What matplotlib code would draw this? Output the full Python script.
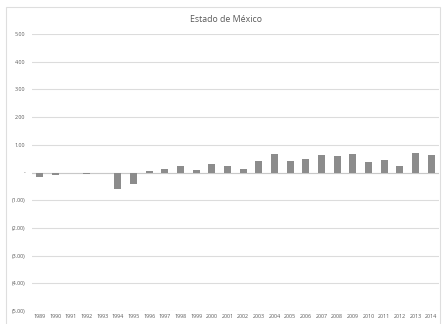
import matplotlib
matplotlib.use("Agg")
import matplotlib.pyplot as plt
from matplotlib.patches import Rectangle
from matplotlib.ticker import FuncFormatter

years = [str(y) for y in range(1989, 2015)]
values = [-0.18, -0.10, -0.02, -0.05, -0.02, -0.58, -0.40, 0.06, 0.14, 0.24,
          0.10, 0.30, 0.22, 0.14, 0.40, 0.67, 0.42, 0.47, 0.64, 0.61,
          0.67, 0.37, 0.45, 0.24, 0.72, 0.63]
y_ticks = [-5, -4, -3, -2, -1, 0, 1, 2, 3, 4, 5]
title = "Estado de México"

plt.rcParams['font.family'] = ['Open Sans', 'DejaVu Sans']

W, H = 445, 324
fig = plt.figure(figsize=(W / 100, H / 100), dpi=100)

# chart frame
fig.patches.append(Rectangle((6 / W, -0.02), (440 - 6) / W, 1 - 7 / H + 0.02,
                             transform=fig.transFigure, fill=False,
                             edgecolor="#dedede", linewidth=0.8))

ax = fig.add_axes([31.7 / W, 1 - 311 / H, (439 - 31.7) / W, (311 - 34) / H])
x = range(len(years))
ax.bar(x, values, width=0.43, color="#8c8c8c", zorder=3)

ax.set_ylim(-5, 5)
ax.set_xlim(-0.5, len(years) - 0.5)
ax.set_yticks(y_ticks)


def fmt(v, _):
    if abs(v) < 1e-9:
        return "-"
    if v < 0:
        return f"({abs(v):.2f})"
    return f"{v:.2f}"


ax.yaxis.set_major_formatter(FuncFormatter(fmt))
ax.set_xticks(list(x))
ax.set_xticklabels(years)
ax.grid(axis="y", color="#dcdcdc", linewidth=0.8, zorder=0)
ax.axhline(0, color="#c8c8c8", linewidth=0.8, zorder=2)
for s in ax.spines.values():
    s.set_visible(False)
ax.tick_params(axis="both", length=0, labelsize=3.9, colors="#595959")
ax.tick_params(axis="y", pad=4.5)
ax.tick_params(axis="x", pad=2.5)

fig.text(226 / W, 1 - 19 / H, title, ha="center", va="center",
         fontsize=6.3, color="#595959")

fig.savefig("out.png", dpi=100, facecolor="white")
